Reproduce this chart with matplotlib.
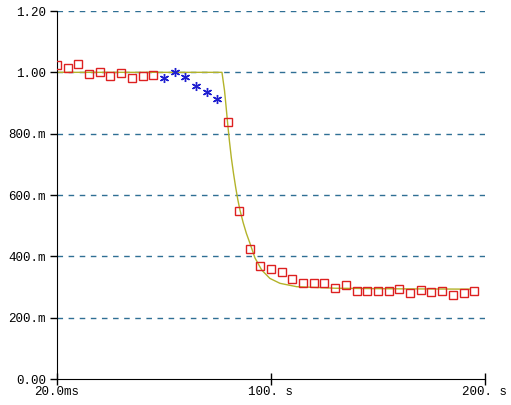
import numpy as np
import matplotlib.pyplot as plt

# measured points (red squares)
sq_x = [0, 5, 10, 15, 20, 25, 30, 35, 40, 45,
        80, 85, 90, 95, 100, 105, 110, 115, 120, 125, 130, 135,
        140, 145, 150, 155, 160, 165, 170, 175, 180, 185, 190, 195]
sq_y = [1.023, 1.013, 1.027, 0.995, 1.002, 0.988, 0.999, 0.982, 0.988, 0.992,
        0.839, 0.549, 0.424, 0.369, 0.358, 0.348, 0.327, 0.312, 0.312, 0.312,
        0.298, 0.306, 0.288, 0.288, 0.288, 0.288, 0.294, 0.280, 0.291, 0.283,
        0.288, 0.274, 0.280, 0.288]

# blue asterisks
st_x = [50, 55, 60, 65, 70, 75]
st_y = [0.981, 1.0, 0.984, 0.955, 0.936, 0.913]

# fitted curve
fit_x = [0.02, 77.1, 77.6, 78.3, 79.0, 79.8, 80.6, 81.5, 82.5, 83.5, 84.5,
         85.5, 87.0, 88.5, 90.2, 92.5, 95.7, 99.5, 104.2, 112, 130, 160, 193]
fit_y = [1.0, 1.0, 0.975, 0.94, 0.89, 0.83, 0.775, 0.72, 0.67, 0.625, 0.585,
         0.551, 0.51, 0.475, 0.442, 0.395, 0.355, 0.328, 0.312, 0.301, 0.296,
         0.294, 0.293]

yticks = [0.0, 0.2, 0.4, 0.6, 0.8, 1.0, 1.2]
ylabels = ['0.00', '200.m', '400.m', '600.m', '800.m', '1.00', '1.20']
xticks = [0.02, 100, 200]
xlabels = ['20.0ms', '100. s', '200. s']

plt.rcParams['font.family'] = ['Liberation Mono', 'DejaVu Sans Mono']

fig = plt.figure(figsize=(5.11, 4.05), dpi=100)
ax = fig.add_axes([57 / 511, 26 / 405, 428 / 511, 368 / 405])

for g in yticks[1:]:
    ax.axhline(g, color='#2f6f94', lw=1, ls=(0, (4, 4)), zorder=0)

ax.plot(fit_x, fit_y, color='#b3b32a', lw=1.0, zorder=2)
ax.plot(sq_x, sq_y, ls='none', marker='s', ms=5.2, mfc='none',
        mec='#dd2020', mew=1.0, zorder=3)
ax.plot(st_x, st_y, ls='none', marker=(6, 2, 0), ms=6.5, mec='#1f1fd0',
        mew=1.0, zorder=3)

ax.set_xlim(0.02, 200)
ax.set_ylim(0, 1.2)
ax.set_xticks(xticks, xlabels)
ax.set_yticks(yticks, ylabels)
ax.spines['top'].set_visible(False)
ax.spines['right'].set_visible(False)
ax.tick_params(axis='x', direction='inout', length=8, width=1, labelsize=9, pad=1)
ax.tick_params(axis='y', direction='out', length=5, width=1, labelsize=9, pad=3)

fig.savefig('out.png', dpi=100)
